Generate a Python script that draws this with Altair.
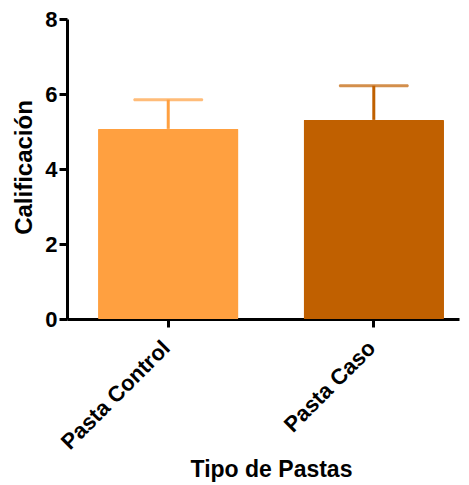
import altair as alt
import pandas as pd

categories = ["Pasta Control", "Pasta Caso"]
means = [5.07, 5.31]
upper = [5.85, 6.22]
colors = ["#FFA040", "#C06000"]

df = pd.DataFrame({
    "cat": categories,
    "mean": means,
    "upper": upper,
    "color": colors,
})

FONT = "Liberation Sans"

x = alt.X("cat:N", sort=categories, title="Tipo de Pastas",
          scale=alt.Scale(paddingInner=0.317, paddingOuter=0.112, align=0.674),
          axis=alt.Axis(labelAngle=-45, labelFont=FONT, labelFontSize=22,
                        labelFontWeight="bold", labelColor="black",
                        labelPadding=10, labelOffset=-9,
                        titleFont=FONT, titleFontSize=23, titleFontWeight="bold",
                        titleColor="black", titleX=204, titleY=157,
                        titleBaseline="alphabetic", titleAlign="center",
                        domainColor="black", domainWidth=3,
                        tickColor="black", tickWidth=3, tickSize=8))

base = alt.Chart(df)

bars = base.mark_bar(cornerRadius=1).encode(
    x=x,
    y=alt.Y("mean:Q", title="Calificación",
            scale=alt.Scale(domain=[0, 8], nice=False),
            axis=alt.Axis(values=[0, 2, 4, 6, 8], grid=False,
                          labelFont=FONT, labelFontSize=22, labelFontWeight="bold",
                          labelColor="black", labelPadding=2,
                          titleFont=FONT, titleFontSize=24, titleFontWeight="bold",
                          titleColor="black", titleX=-36, titleY=148,
                          titleAngle=-90, titleBaseline="alphabetic",
                          titleAlign="center",
                          domainColor="black", domainWidth=3,
                          tickColor="black", tickWidth=3, tickSize=8)),
    color=alt.Color("color:N", scale=None),
)

rules = base.mark_rule(strokeWidth=3).encode(
    x=alt.X("cat:N", sort=categories),
    y="mean:Q",
    y2="upper:Q",
    color=alt.Color("color:N", scale=None),
)

caps = base.mark_tick(thickness=3, size=70, orient="horizontal", cornerRadius=1.5).encode(
    x=alt.X("cat:N", sort=categories),
    y="upper:Q",
    color=alt.Color("color:N", scale=None),
)

chart = (bars + rules + caps).properties(
    width=392, height=300,
    background="white",
    autosize=alt.AutoSizeParams(type="none"),
    padding={"left": 59, "top": 11, "right": 2, "bottom": 166},
).configure_view(stroke=None)

chart.save("out.html", embed_options={"renderer": "svg", "actions": False})
